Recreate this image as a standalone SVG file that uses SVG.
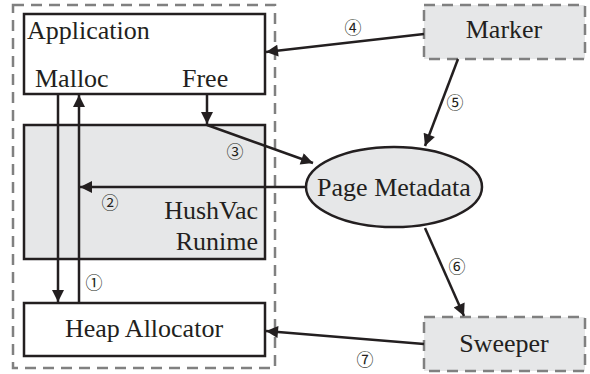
<svg xmlns="http://www.w3.org/2000/svg" width="590" height="374" viewBox="0 0 590 374">
  <defs>
    <marker id="arrowL" viewBox="0 0 10 10" refX="10" refY="5" markerWidth="14" markerHeight="12" markerUnits="userSpaceOnUse" orient="auto">
      <path d="M0,0 L10,5 L0,10 z" fill="#231f20"/>
    </marker>
  </defs>
  <style>
    .box { fill: #ffffff; stroke: #231f20; stroke-width: 2.5; }
    .shade { fill: #e6e7e8; stroke: #231f20; stroke-width: 2.5; }
    .dashed { fill: #e6e7e8; stroke: #808080; stroke-width: 2.5; stroke-dasharray: 11 7; }
    .outer { fill: none; stroke: #808080; stroke-width: 2.5; stroke-dasharray: 11 7; }
    .lbl { font-family: "Liberation Serif", "Times New Roman", serif; font-size: 26px; fill: #231f20; }
    .num { font-family: "Noto Sans CJK JP", "DejaVu Sans", sans-serif; font-size: 17px; fill: #231f20; text-anchor: middle; }
    .edge { stroke: #231f20; stroke-width: 2.5; fill: none; marker-end: url(#arrowL); }
  </style>

  <!-- enclosing dashed region -->
  <rect class="outer" x="13" y="5" width="262" height="363"/>

  <g id="application">
    <rect class="box" x="24" y="14" width="241" height="80"/>
    <text class="lbl" x="27" y="39">Application</text>
    <text class="lbl" x="35" y="87">Malloc</text>
    <text class="lbl" x="182" y="87">Free</text>
  </g>

  <g id="runtime">
    <rect class="shade" x="24" y="125" width="241" height="134"/>
    <text class="lbl" x="258" y="219" text-anchor="end">HushVac</text>
    <text class="lbl" x="258" y="250" text-anchor="end">Runime</text>
  </g>

  <g id="heap-allocator">
    <rect class="box" x="24" y="303" width="241" height="53"/>
    <text class="lbl" x="144" y="337" text-anchor="middle">Heap Allocator</text>
  </g>

  <g id="page-metadata">
    <ellipse class="shade" cx="394" cy="187" rx="88" ry="40"/>
    <text class="lbl" x="394" y="196" text-anchor="middle">Page Metadata</text>
  </g>

  <g id="marker">
    <rect class="dashed" x="424" y="5" width="161" height="54"/>
    <text class="lbl" x="504" y="38" text-anchor="middle">Marker</text>
  </g>

  <g id="sweeper">
    <rect class="dashed" x="424" y="317" width="161" height="54"/>
    <text class="lbl" x="504" y="352" text-anchor="middle">Sweeper</text>
  </g>

  <g id="connectors">
    <line class="edge" x1="58" y1="94" x2="58" y2="302"/>
    <line class="edge" x1="79" y1="303" x2="79" y2="95"/>
    <line class="edge" x1="207" y1="94" x2="207" y2="124"/>
    <line class="edge" x1="207" y1="125" x2="313" y2="163"/>
    <line class="edge" x1="306" y1="187" x2="80" y2="187"/>
    <line class="edge" x1="424" y1="34" x2="266" y2="52"/>
    <line class="edge" x1="458" y1="59" x2="425" y2="146"/>
    <line class="edge" x1="425" y1="228" x2="464" y2="316"/>
    <path class="edge" d="M424,344 L266,331"/>
  </g>

  <g id="labels">
    <text class="num" x="94" y="289">①</text>
    <text class="num" x="110" y="209">②</text>
    <text class="num" x="235" y="158">③</text>
    <text class="num" x="353" y="34">④</text>
    <text class="num" x="455" y="109">⑤</text>
    <text class="num" x="457" y="273">⑥</text>
    <text class="num" x="365" y="366">⑦</text>
  </g>
</svg>
